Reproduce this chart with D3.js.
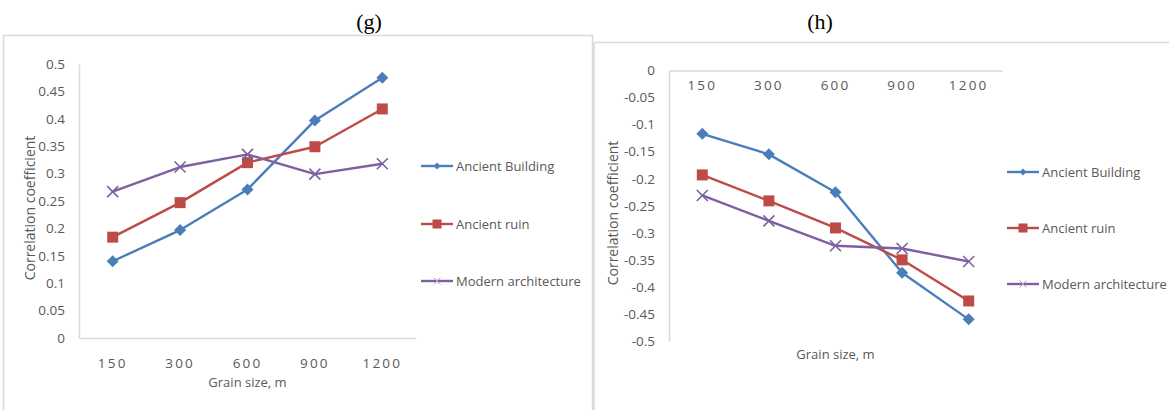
<!DOCTYPE html>
<html>
<head>
<meta charset="utf-8">
<script src="https://cdn.jsdelivr.net/npm/d3@7"></script>
<style>
  html, body { margin: 0; padding: 0; background: #fff; }
  svg { display: block; }
</style>
</head>
<body>
<svg id="chart" width="1169" height="410"></svg>
<script>
// Grain sizes (m) on the x axis
const grainSizes = ["150", "300", "600", "900", "1200"];
const seriesNames = ["Ancient Building", "Ancient ruin", "Modern architecture"];

// Panel (g): positive correlation coefficients
const gAncientBuilding = [0.140, 0.197, 0.271, 0.397, 0.475];
const gAncientRuin     = [0.184, 0.247, 0.320, 0.349, 0.418];
const gModern          = [0.267, 0.312, 0.335, 0.299, 0.318];

// Panel (h): negative correlation coefficients
const hAncientBuilding = [-0.117, -0.155, -0.225, -0.374, -0.460];
const hAncientRuin     = [-0.193, -0.241, -0.291, -0.350, -0.426];
const hModern          = [-0.231, -0.278, -0.324, -0.329, -0.353];

const gTicks = [0, 0.05, 0.1, 0.15, 0.2, 0.25, 0.3, 0.35, 0.4, 0.45, 0.5];
const hTicks = [0, -0.05, -0.1, -0.15, -0.2, -0.25, -0.3, -0.35, -0.4, -0.45, -0.5];

const colors = ["#4A7EBB", "#BE4B48", "#7D60A0"];
const markers = ["diamond", "square", "cross"];
const FONT = '"Open Sans", "Liberation Sans", sans-serif';
const GREY = "#595959";
const AXIS = "#D9D9D9";

const svg = d3.select("#chart");

function tickFmt(v) {
  if (v === 0) return "0";
  return String(+v.toFixed(2));
}

function drawMarker(g, type, color, size, light) {
  const h = size / 2;
  if (type === "diamond") {
    g.append("path").attr("d", `M0,${-h}L${h},0L0,${h}L${-h},0Z`).attr("fill", color);
  } else if (type === "square") {
    g.append("rect").attr("x", -h).attr("y", -h).attr("width", size).attr("height", size).attr("fill", color);
  } else {
    g.append("path").attr("d", `M${-h},${-h}L${h},${h}M${-h},${h}L${h},${-h}`)
      .attr("stroke", light ? "#B3A2C7" : color).attr("stroke-width", light ? 1 : 1.6).attr("fill", "none");
  }
}

function drawPanel(cfg) {
  // frame around the panel
  svg.append("rect")
    .attr("x", cfg.frame[0]).attr("y", cfg.frame[1])
    .attr("width", cfg.frame[2]).attr("height", cfg.frame[3])
    .attr("fill", "none").attr("stroke", AXIS).attr("stroke-width", 1.5);

  // panel letter
  svg.append("text")
    .attr("x", cfg.titleX).attr("y", 29)
    .attr("text-anchor", "middle")
    .attr("font-family", '"Liberation Serif", "DejaVu Serif", serif')
    .attr("font-size", 22).attr("fill", "#000")
    .text(cfg.title);

  const x = d3.scaleBand().domain(grainSizes).range([cfg.left, cfg.right]);
  const y = d3.scaleLinear().domain(cfg.domain).range([cfg.bottom, cfg.top]);

  // y axis with labels
  const yAxis = svg.append("g").attr("transform", `translate(${cfg.left},0)`)
    .call(d3.axisLeft(y).tickValues(cfg.ticks).tickFormat(tickFmt).tickSize(0).tickPadding(14));
  yAxis.select(".domain").attr("stroke", AXIS).attr("stroke-width", 1.5);
  yAxis.selectAll("text").attr("font-family", FONT).attr("font-size", 13.5).attr("fill", GREY);

  // x axis along the zero line
  const xAxis = svg.append("g").attr("transform", `translate(0,${y(0)})`)
    .call(d3.axisBottom(x).tickSize(0).tickPadding(cfg.xPad));
  xAxis.select(".domain").attr("stroke", AXIS).attr("stroke-width", 1.5);
  xAxis.selectAll("text").attr("font-family", FONT).attr("font-size", 13.5).attr("fill", GREY)
    .attr("letter-spacing", "2.2px");

  // axis titles
  svg.append("text")
    .attr("transform", `translate(${cfg.yTitleX},${cfg.yTitleY}) rotate(-90)`)
    .attr("text-anchor", "middle").attr("dominant-baseline", "central")
    .attr("font-family", FONT).attr("font-size", 14).attr("fill", GREY)
    .text("Correlation coefficient");
  svg.append("text")
    .attr("x", (cfg.left + cfg.right) / 2).attr("y", cfg.xTitleY)
    .attr("text-anchor", "middle").attr("dominant-baseline", "central")
    .attr("font-family", FONT).attr("font-size", 13).attr("fill", GREY)
    .text("Grain size, m");

  const cx = d => x(d) + x.bandwidth() / 2;
  const line = d3.line().x(d => cx(d.k)).y(d => y(d.v));

  cfg.series.forEach((vals, i) => {
    const pts = grainSizes.map((k, j) => ({ k, v: vals[j] }));
    svg.append("path").datum(pts).attr("d", line)
      .attr("fill", "none").attr("stroke", colors[i]).attr("stroke-width", 2.4)
      .attr("stroke-linejoin", "round");
    pts.forEach(p => {
      const m = svg.append("g").attr("transform", `translate(${cx(p.k)},${y(p.v)})`);
      drawMarker(m, markers[i], colors[i], markers[i] === "diamond" ? 12 : 11);
    });
  });

  // legend
  seriesNames.forEach((name, i) => {
    const ly = cfg.legendY[i];
    svg.append("line")
      .attr("x1", cfg.legendX).attr("x2", cfg.legendX + 32).attr("y1", ly).attr("y2", ly)
      .attr("stroke", colors[i]).attr("stroke-width", 2.4);
    const m = svg.append("g").attr("transform", `translate(${cfg.legendX + 16},${ly})`);
    drawMarker(m, markers[i], colors[i], markers[i] === "square" ? 9 : 7, markers[i] === "cross");
    svg.append("text")
      .attr("x", cfg.legendX + 35).attr("y", ly).attr("dominant-baseline", "central")
      .attr("font-family", FONT).attr("font-size", 13).attr("fill", GREY)
      .text(name);
  });
}

drawPanel({
  title: "(g)", titleX: 369,
  frame: [3.5, 35.5, 589, 380],
  left: 79, right: 416, top: 64, bottom: 338,
  domain: [0, 0.5], ticks: gTicks, xPad: 20,
  yTitleX: 29, yTitleY: 208, xTitleY: 382,
  series: [gAncientBuilding, gAncientRuin, gModern],
  legendX: 421, legendY: [166, 224, 281]
});

drawPanel({
  title: "(h)", titleX: 820,
  frame: [594, 42.5, 580, 380],
  left: 669, right: 1002, top: 70.5, bottom: 341,
  domain: [-0.5, 0], ticks: hTicks, xPad: 10,
  yTitleX: 612, yTitleY: 213, xTitleY: 354,
  series: [hAncientBuilding, hAncientRuin, hModern],
  legendX: 1007, legendY: [172, 228, 284]
});
</script>
</body>
</html>
